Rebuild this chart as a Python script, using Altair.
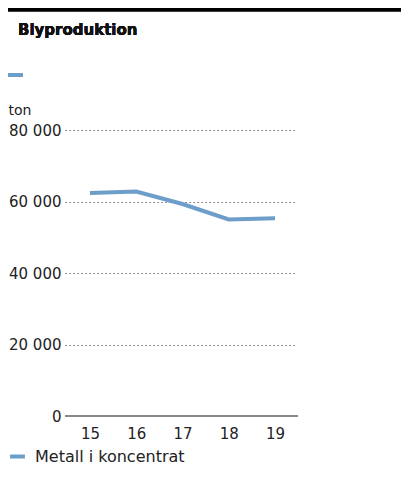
import altair as alt
import pandas as pd

years = ["15", "16", "17", "18", "19"]
values = [62400, 62800, 59300, 55000, 55300]
series = "Metall i koncentrat"
title_text = "Blyproduktion"
unit = "ton"

df = pd.DataFrame({"year": years, "value": values, "series": [series] * len(years)})

BLUE = "#6d9dc9"
FONT = "DejaVu Sans"

W, H = 230, 286
PAD_L, PAD_T = 57, 122
TOTAL_W, TOTAL_H = 393, 474

base = alt.Chart(df)

line = base.mark_line(strokeWidth=4, strokeCap="butt").encode(
    x=alt.X("year:O", scale=alt.Scale(type="point", padding=0.4865, align=0.5556),
            axis=alt.Axis(title=None, labelAngle=0, ticks=False, domain=False,
                          labelPadding=10, labelFontSize=15, labelColor="#222", labelFont=FONT)),
    y=alt.Y("value:Q", scale=alt.Scale(domain=[0, 80000], nice=False),
            axis=alt.Axis(values=[0, 20000, 40000, 60000, 80000],
                          labelExpr="replace(format(datum.value, ','), ',', ' ')",
                          ticks=False, domain=False, labelPadding=4,
                          labelFontSize=15, labelColor="#222", labelFont=FONT,
                          grid=True, gridDash=[1.3, 2.7], gridColor="#555", gridWidth=1,
                          title=unit, titleAngle=0, titleAlign="left", titleBaseline="middle",
                          titleX=-57, titleY=-20, titleFontSize=14, titleFontWeight="normal",
                          titleColor="#222", titleFont=FONT)),
    color=alt.Color("series:N", scale=alt.Scale(domain=[series], range=[BLUE]),
                    legend=alt.Legend(title=None, orient="none", legendX=-57, legendY=317,
                                      symbolType="stroke", symbolStrokeWidth=4, symbolSize=220,
                                      labelFontSize=16, labelColor="#222", labelFont=FONT,
                                      labelOffset=8)),
)

zero = base.mark_rule(color="#888", strokeWidth=2).encode(
    x=alt.value(0), x2=alt.value(233), y=alt.datum(0)
)

topbar = base.mark_rule(color="#000", strokeWidth=3.5).encode(
    x=alt.value(-57), x2=alt.value(336), y=alt.value(-120.5)
)

title = base.mark_text(align="left", baseline="middle", fontSize=15, fontWeight="bold",
                       font=FONT, color="#111").encode(
    x=alt.value(-47), y=alt.value(-100), text=alt.datum(title_text)
)

topdash = base.mark_rule(color=BLUE, strokeWidth=4).encode(
    x=alt.value(-57), x2=alt.value(-42), y=alt.value(-55)
)

chart = alt.layer(zero, line, topbar, title, topdash).properties(
    width=W, height=H,
    autosize=alt.AutoSizeParams(type="none"),
    padding={"left": PAD_L, "top": PAD_T, "right": TOTAL_W - PAD_L - W, "bottom": TOTAL_H - PAD_T - H},
).configure_view(stroke=None)

chart.save("out.html", embed_options={"renderer": "svg", "actions": False})
